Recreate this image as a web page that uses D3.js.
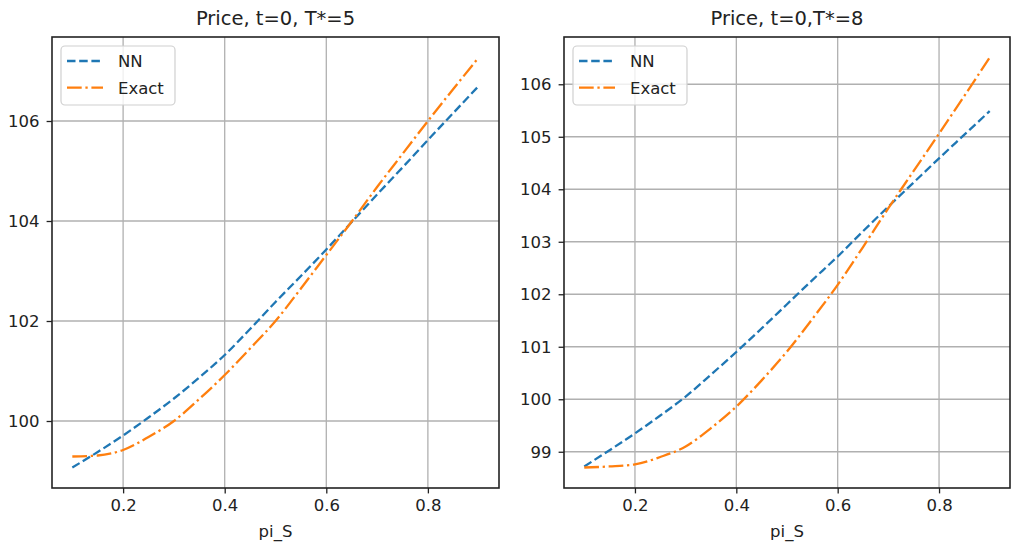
<!DOCTYPE html>
<html><head><meta charset="utf-8">
<script src="https://cdn.jsdelivr.net/npm/d3@7"></script>
<style>
html,body{margin:0;padding:0;background:#fff;}
svg{display:block;font-family:"DejaVu Sans",sans-serif;}
</style></head>
<body>
<svg id="chart" width="1011" height="547"></svg>
<script>
const piS = [0.1,0.15,0.2,0.25,0.3,0.35,0.4,0.45,0.5,0.55,0.6,0.65,0.7,0.75,0.8,0.85,0.9];
const nnT5    = [99.07,99.38,99.71,100.07,100.45,100.87,101.32,101.84,102.38,102.90,103.43,103.98,104.53,105.07,105.62,106.16,106.70];
const exactT5 = [99.29,99.31,99.42,99.68,100.00,100.44,100.92,101.45,102.00,102.65,103.32,103.99,104.68,105.34,106.00,106.64,107.27];
const nnT8    = [98.72,99.03,99.35,99.69,100.05,100.47,100.90,101.35,101.81,102.27,102.72,103.20,103.67,104.13,104.59,105.04,105.49];
const exactT8 = [98.70,98.72,98.76,98.90,99.10,99.45,99.86,100.36,100.91,101.53,102.18,102.90,103.64,104.35,105.06,105.78,106.51];
const xTicks = [0.2,0.4,0.6,0.8];
const yTicksT5 = [100,102,104,106];
const yTicksT8 = [99,100,101,102,103,104,105,106];
const titles = ["Price, t=0, T*=5","Price, t=0,T*=8"];
const seriesNames = ["NN","Exact"];
const xLabel = "pi_S";

const svg = d3.select("#chart");
const colors = ["#1f77b4","#ff7f0e"];
const dashes = ["8.5,3.7","14.7,3.7,2.3,3.7"];

function panel(box, nn, ex, yTicks, title){
  const all = nn.concat(ex);
  const ymin = d3.min(all), ymax = d3.max(all), yr = ymax-ymin;
  const xmin = d3.min(piS), xmax = d3.max(piS), xr = xmax-xmin;
  const x = d3.scaleLinear().domain([xmin-0.05*xr, xmax+0.05*xr]).range([box.l, box.r]);
  const y = d3.scaleLinear().domain([ymin-0.05*yr, ymax+0.05*yr]).range([box.b, box.t]);
  const g = svg.append("g");
  g.selectAll(".gx").data(xTicks).join("line")
    .attr("x1",d=>x(d)).attr("x2",d=>x(d)).attr("y1",box.t).attr("y2",box.b)
    .attr("stroke","#b0b0b0").attr("stroke-width",1.3);
  g.selectAll(".gy").data(yTicks).join("line")
    .attr("y1",d=>y(d)).attr("y2",d=>y(d)).attr("x1",box.l).attr("x2",box.r)
    .attr("stroke","#b0b0b0").attr("stroke-width",1.3);
  const line = d3.line().x((d,i)=>x(piS[i])).y(d=>y(d)).curve(d3.curveMonotoneX);
  [nn,ex].forEach((s,k)=>{
    g.append("path").attr("d",line(s)).attr("fill","none")
      .attr("stroke",colors[k]).attr("stroke-width",2.3)
      .attr("stroke-dasharray",dashes[k]);
  });
  const xa = g.append("g").attr("transform",`translate(0,${box.b})`)
    .call(d3.axisBottom(x).tickValues(xTicks).tickSize(5.4).tickPadding(6).tickFormat(d3.format(".1f")));
  const ya = g.append("g").attr("transform",`translate(${box.l},0)`)
    .call(d3.axisLeft(y).tickValues(yTicks).tickSize(5.4).tickPadding(7).tickFormat(d3.format("d")));
  [xa,ya].forEach(a=>{
    a.select(".domain").remove();
    a.selectAll("line").attr("stroke","#222").attr("stroke-width",1.3);
    a.selectAll("text").attr("font-size",16.5).attr("fill","#222").attr("font-family","DejaVu Sans");
  });
  g.append("rect").attr("x",box.l).attr("y",box.t).attr("width",box.r-box.l).attr("height",box.b-box.t)
    .attr("fill","none").attr("stroke","#222").attr("stroke-width",1.6);
  g.append("text").attr("x",(box.l+box.r)/2).attr("y",25).attr("text-anchor","middle")
    .attr("font-size",19.5).attr("fill","#222").text(title);
  g.append("text").attr("x",(box.l+box.r)/2).attr("y",537).attr("text-anchor","middle")
    .attr("font-size",16.5).attr("fill","#222").text(xLabel);
  const lx = box.l+9, ly = box.t+9;
  g.append("rect").attr("x",lx).attr("y",ly).attr("width",114).attr("height",59).attr("rx",4)
    .attr("fill","#fff").attr("fill-opacity",0.8).attr("stroke","#d0d0d0").attr("stroke-width",1.2);
  seriesNames.forEach((n,k)=>{
    const yy = ly+15+k*26.7;
    g.append("line").attr("x1",lx+6).attr("x2",lx+42).attr("y1",yy).attr("y2",yy)
      .attr("stroke",colors[k]).attr("stroke-width",2.3).attr("stroke-dasharray",dashes[k]);
    g.append("text").attr("x",lx+57).attr("y",yy+6).attr("font-size",16.5).attr("fill","#222").text(n);
  });
}
panel({l:52,r:499,t:37,b:488}, nnT5, exactT5, yTicksT5, titles[0]);
panel({l:564,r:1010,t:37,b:488}, nnT8, exactT8, yTicksT8, titles[1]);
</script>
</body></html>
